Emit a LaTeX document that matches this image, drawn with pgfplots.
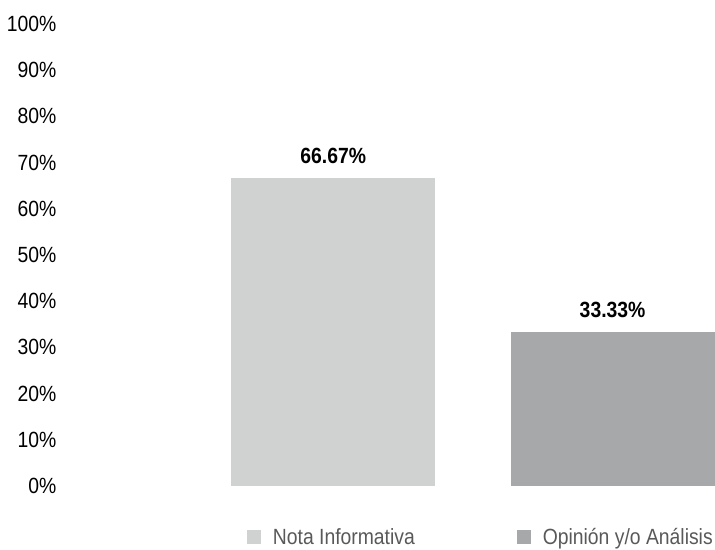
\documentclass[border=0pt]{standalone}
\usepackage{pgfplots}
\pgfplotsset{compat=1.18}
\usepackage{fontspec}
\setmainfont{Liberation Sans}[FakeStretch=0.88]
\definecolor{barA}{RGB}{208,209,209}
\definecolor{barB}{RGB}{166,168,169}
\definecolor{legtext}{RGB}{89,89,89}
\newcommand{\chartfont}{\fontsize{22bp}{26bp}\selectfont}
\begin{document}
\begin{tikzpicture}
\useasboundingbox (-65bp,-64bp) rectangle (650.3bp,486bp);
\begin{axis}[
  scale only axis,
  width=650.3bp, height=462bp,
  xmin=-0.96, xmax=1.3667,
  ymin=0, ymax=100,
  clip=true,
  axis line style={draw=none},
  tick style={draw=none},
  xtick=\empty,
  ytick={0,10,...,100},
  yticklabel={\pgfmathprintnumber{\tick}\%},
  yticklabel style={font=\chartfont, text=black, xshift=-5bp},
  /pgf/number format/assume math mode=true,
  nodes near coords={\pgfmathprintnumber[fixed,precision=2,fixed zerofill]{\pgfplotspointmeta}\%},
  nodes near coords style={font=\chartfont\bfseries, text=black, yshift=11bp},
  legend columns=2,
  legend style={draw=none, fill=none, inner sep=0pt, outer sep=0pt,
    at={(axis description cs:0.2799,-0.1104)}, anchor=west,
    font=\chartfont, text=legtext,
    /tikz/every odd column/.append style={column sep=10bp},
    /tikz/every even column/.append style={column sep=100bp}},
]
\addplot[ybar, bar width=0.73, bar shift=0pt, fill=barA, draw=none,
  legend image code/.code={\fill[barA] (0bp,-7bp) rectangle (14bp,7bp);}]
  coordinates {(0,66.67)};
\addlegendentry{Nota Informativa}
\addplot[ybar, bar width=0.73, bar shift=0pt, fill=barB, draw=none,
  legend image code/.code={\fill[barB] (0bp,-7bp) rectangle (14bp,7bp);}]
  coordinates {(1,33.33)};
\addlegendentry{Opinión y/o Análisis}
\end{axis}
\end{tikzpicture}
\end{document}
